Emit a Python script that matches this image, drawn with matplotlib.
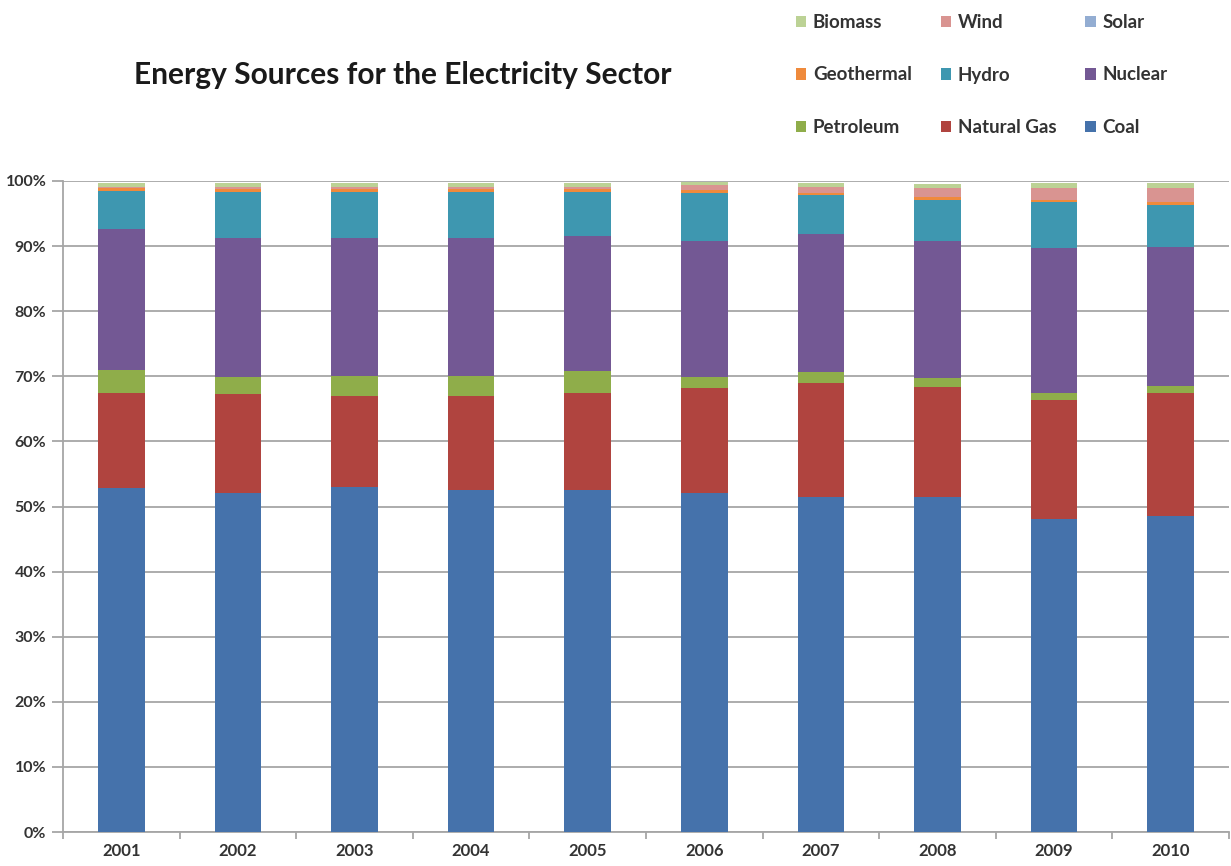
import matplotlib
matplotlib.use("Agg")
import matplotlib.pyplot as plt
from matplotlib.patches import Patch
from matplotlib.ticker import PercentFormatter, FixedLocator
import numpy as np

plt.rcParams['font.family'] = ['Lato', 'DejaVu Sans']

years = ['2001', '2002', '2003', '2004', '2005', '2006', '2007', '2008', '2009', '2010']
coal        = [52.9, 52.0, 53.0, 52.5, 52.5, 52.0, 51.5, 51.5, 48.1, 48.5]
natural_gas = [14.6, 15.3, 13.9, 14.4, 15.0, 16.2, 17.4, 16.9, 18.3, 19.0]
petroleum   = [3.4, 2.6, 3.2, 3.2, 3.3, 1.7, 1.7, 1.3, 1.1, 1.0]
nuclear     = [21.8, 21.4, 21.1, 21.2, 20.8, 20.9, 21.3, 21.1, 22.2, 21.4]
hydro       = [5.8, 7.0, 7.1, 7.0, 6.7, 7.4, 5.9, 6.3, 7.0, 6.4]
geothermal  = [0.4, 0.4, 0.4, 0.4, 0.4, 0.4, 0.4, 0.4, 0.4, 0.4]
solar       = [0.01, 0.01, 0.01, 0.01, 0.01, 0.01, 0.02, 0.02, 0.02, 0.03]
wind        = [0.2, 0.3, 0.3, 0.4, 0.4, 0.7, 0.9, 1.4, 1.8, 2.2]
biomass     = [0.6, 0.7, 0.7, 0.6, 0.6, 0.5, 0.5, 0.6, 0.8, 0.7]

series = [
    ('Coal', coal, '#4572ab'),
    ('Natural Gas', natural_gas, '#b0443f'),
    ('Petroleum', petroleum, '#8fad4a'),
    ('Nuclear', nuclear, '#735894'),
    ('Hydro', hydro, '#3e97b0'),
    ('Geothermal', geothermal, '#ef8a3c'),
    ('Solar', solar, '#93add2'),
    ('Wind', wind, '#d99491'),
    ('Biomass', biomass, '#bcd295'),
]

fig = plt.figure(figsize=(12.31, 8.66), dpi=100)
ax = fig.add_axes([63/1231, 1 - 832/866, (1229 - 63)/1231, (832 - 181)/866])

x = np.arange(len(years))
bottom = np.zeros(len(years))
handles = {}
for name, vals, col in series:
    v = np.array(vals)
    ax.bar(x, v, bottom=bottom, width=0.4, color=col, zorder=3, linewidth=0)
    bottom += v
    handles[name] = Patch(facecolor=col, edgecolor='none')

ax.set_xlim(-0.5, len(years) - 0.5)
ax.set_ylim(0, 100)
ax.yaxis.set_major_locator(FixedLocator(np.arange(0, 101, 10)))
ax.yaxis.set_major_formatter(PercentFormatter(decimals=0))
ax.set_xticks(x)
ax.set_xticklabels(years)
ax.set_xticks(np.arange(-0.5, len(years), 1.0), minor=True)
ax.grid(axis='y', color='#a6a6a6', linewidth=1.3, zorder=0)
for s in ['top', 'right']:
    ax.spines[s].set_visible(False)
for s in ['left', 'bottom']:
    ax.spines[s].set_color('#a6a6a6')
    ax.spines[s].set_linewidth(1.3)
ax.tick_params(axis='y', length=8, color='#a6a6a6', width=1.3, labelsize=11.5, pad=4, labelcolor='#333333')
ax.tick_params(axis='x', which='major', length=0, labelsize=12, pad=8, labelcolor='#333333')
ax.tick_params(axis='x', which='minor', length=5, color='#a6a6a6', width=1.3)
for lbl in ax.get_xticklabels() + ax.get_yticklabels():
    lbl.set_fontweight('bold')

fig.text(403/1231, 1 - 75/866, 'Energy Sources for the Electricity Sector',
         ha='center', va='center', fontsize=21.5, fontweight='bold', color='#1a1a1a')

order = ['Biomass', 'Geothermal', 'Petroleum', 'Wind', 'Hydro', 'Natural Gas', 'Solar', 'Nuclear', 'Coal']
leg = fig.legend([handles[n] for n in order], order, loc='upper left',
                 bbox_to_anchor=(779/1231, 1 + 3/866), ncol=3, frameon=False,
                 prop={'size': 13.5, 'weight': 'bold'}, handlelength=0.55, handleheight=0.55,
                 handletextpad=0.35, labelspacing=1.9, columnspacing=1.55)
for t in leg.get_texts():
    t.set_color('#333333')

fig.savefig('out.png', dpi=100, facecolor='white')
